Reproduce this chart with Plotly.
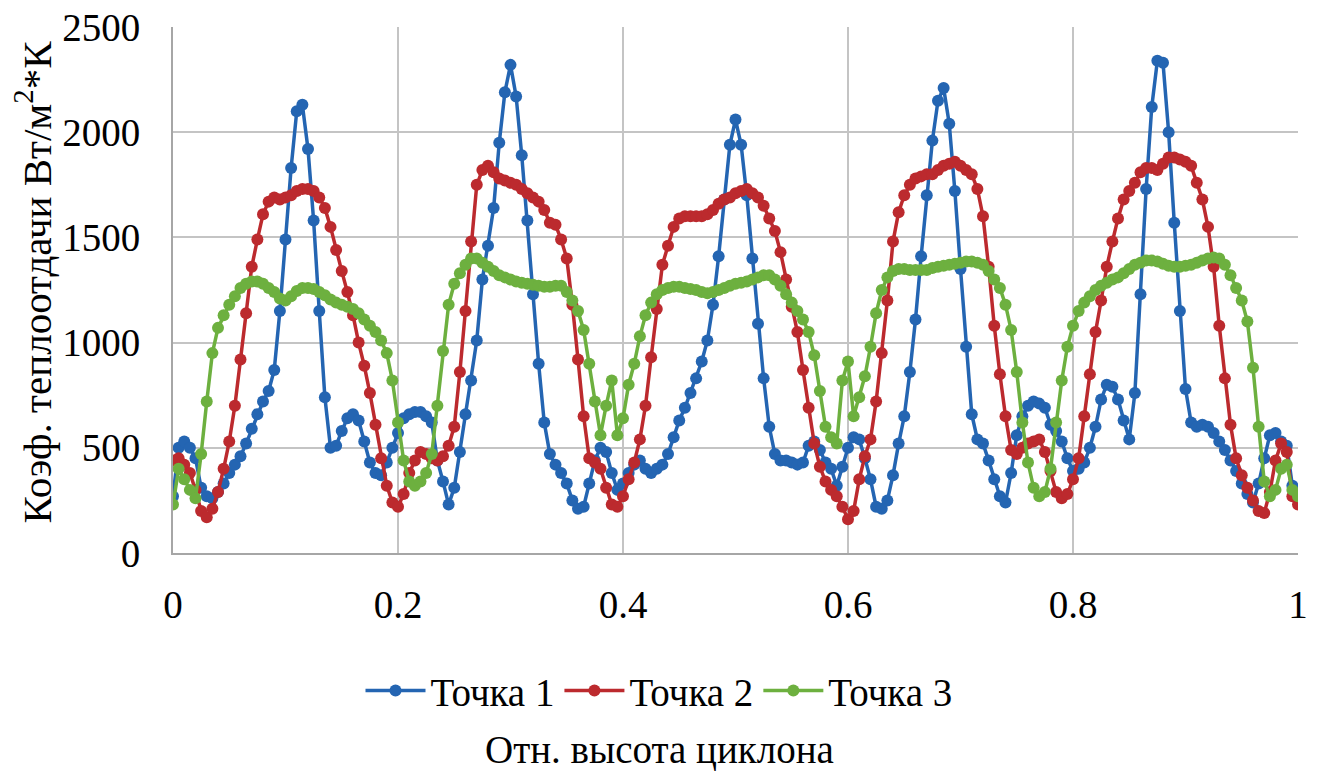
import plotly.graph_objects as go

# Relative cyclone height (x), sampled every 0.005
x_height = [
    0.000, 0.005, 0.010, 0.015, 0.020, 0.025, 0.030, 0.035, 0.040, 0.045,
    0.050, 0.055, 0.060, 0.065, 0.070, 0.075, 0.080, 0.085, 0.090, 0.095,
    0.100, 0.105, 0.110, 0.115, 0.120, 0.125, 0.130, 0.135, 0.140, 0.145,
    0.150, 0.155, 0.160, 0.165, 0.170, 0.175, 0.180, 0.185, 0.190, 0.195,
    0.200, 0.205, 0.210, 0.215, 0.220, 0.225, 0.230, 0.235, 0.240, 0.245,
    0.250, 0.255, 0.260, 0.265, 0.270, 0.275, 0.280, 0.285, 0.290, 0.295,
    0.300, 0.305, 0.310, 0.315, 0.320, 0.325, 0.330, 0.335, 0.340, 0.345,
    0.350, 0.355, 0.360, 0.365, 0.370, 0.375, 0.380, 0.385, 0.390, 0.395,
    0.400, 0.405, 0.410, 0.415, 0.420, 0.425, 0.430, 0.435, 0.440, 0.445,
    0.450, 0.455, 0.460, 0.465, 0.470, 0.475, 0.480, 0.485, 0.490, 0.495,
    0.500, 0.505, 0.510, 0.515, 0.520, 0.525, 0.530, 0.535, 0.540, 0.545,
    0.550, 0.555, 0.560, 0.565, 0.570, 0.575, 0.580, 0.585, 0.590, 0.595,
    0.600, 0.605, 0.610, 0.615, 0.620, 0.625, 0.630, 0.635, 0.640, 0.645,
    0.650, 0.655, 0.660, 0.665, 0.670, 0.675, 0.680, 0.685, 0.690, 0.695,
    0.700, 0.705, 0.710, 0.715, 0.720, 0.725, 0.730, 0.735, 0.740, 0.745,
    0.750, 0.755, 0.760, 0.765, 0.770, 0.775, 0.780, 0.785, 0.790, 0.795,
    0.800, 0.805, 0.810, 0.815, 0.820, 0.825, 0.830, 0.835, 0.840, 0.845,
    0.850, 0.855, 0.860, 0.865, 0.870, 0.875, 0.880, 0.885, 0.890, 0.895,
    0.900, 0.905, 0.910, 0.915, 0.920, 0.925, 0.930, 0.935, 0.940, 0.945,
    0.950, 0.955, 0.960, 0.965, 0.970, 0.975, 0.980, 0.985, 0.990, 0.995,
    1.000,
]

tochka_1 = [
    270, 500, 530, 500, 450, 310, 270, 260, 290, 330,
    380, 420, 460, 520, 590, 660, 720, 770, 870, 1150,
    1490, 1830, 2100, 2130, 1920, 1580, 1150, 740, 500, 510,
    580, 640, 660, 630, 530, 430, 380, 370, 430, 500,
    570, 640, 660, 670, 670, 650, 620, 440, 340, 230,
    310, 480, 660, 820, 1010, 1300, 1460, 1640, 1950, 2190,
    2320, 2170, 1890, 1580, 1230, 900, 620, 470, 420, 380,
    330, 250, 210, 220, 330, 440, 500, 480, 380, 300,
    330, 380, 420, 440, 400, 380, 400, 420, 470, 550,
    630, 690, 760, 830, 910, 1010, 1180, 1410, 1680, 1940,
    2060, 1940, 1700, 1400, 1090, 830, 600, 470, 440, 440,
    430, 420, 430, 510, 530, 490, 430, 400, 320, 410,
    500, 550, 540, 450, 350, 220, 210, 250, 370, 520,
    650, 860, 1110, 1410, 1700, 1960, 2150, 2210, 2040, 1720,
    1350, 980, 660, 540, 520, 440, 350, 270, 240, 380,
    560, 650, 700, 720, 710, 690, 610, 580, 530, 450,
    390, 400, 430, 500, 600, 730, 800, 790, 730, 630,
    540, 760, 1230, 1730, 2120, 2340, 2330, 2000, 1570, 1150,
    780, 620, 600, 610, 600, 570, 530, 490, 440, 390,
    330, 280, 240, 330, 450, 560, 570, 530, 510, 320,
    270,
]

tochka_2 = [
    440, 450, 420, 380, 300, 200, 170, 210, 290, 400,
    530, 700, 920, 1140, 1360, 1490, 1610, 1670, 1690, 1680,
    1690, 1700, 1720, 1730, 1730, 1720, 1690, 1640, 1550, 1440,
    1340, 1240, 1130, 1000, 890, 760, 610, 450, 320, 240,
    220, 280, 380, 440, 480, 470, 450, 440, 460, 510,
    600, 860, 1150, 1480, 1750, 1820, 1840, 1810, 1780, 1770,
    1760, 1750, 1730, 1710, 1690, 1670, 1630, 1570, 1560, 1490,
    1400, 1180, 920, 650, 450, 430, 400, 310, 230, 220,
    270, 350, 430, 540, 700, 930, 1160, 1370, 1460, 1550,
    1590, 1600, 1600, 1600, 1600, 1610, 1630, 1660, 1680, 1690,
    1710, 1720, 1730, 1710, 1690, 1650, 1590, 1530, 1430, 1300,
    1170, 1050, 870, 690, 520, 410, 340, 300, 270, 220,
    160, 200, 350, 460, 540, 720, 950, 1200, 1480, 1620,
    1700, 1750, 1780, 1790, 1800, 1800, 1820, 1840, 1850, 1860,
    1840, 1820, 1800, 1730, 1600, 1360, 1080, 850, 650, 490,
    470, 500, 520, 530, 540, 480, 390, 290, 260, 280,
    350, 450, 650, 850, 1050, 1200, 1360, 1480, 1590, 1680,
    1720, 1760, 1810, 1830, 1830, 1820, 1850, 1880, 1880, 1870,
    1860, 1840, 1760, 1680, 1550, 1360, 1080, 830, 610, 450,
    370, 310, 250, 200, 190, 290, 440, 520, 480, 270,
    230,
]

tochka_3 = [
    230, 400, 350, 300, 260, 470, 720, 950, 1070, 1130,
    1180, 1220, 1260, 1280, 1290, 1290, 1280, 1260, 1240, 1210,
    1200, 1220, 1245, 1260, 1260, 1255, 1240, 1225, 1205, 1190,
    1180, 1170, 1160, 1140, 1110, 1080, 1050, 1010, 950, 820,
    620, 440, 340, 320, 340, 380, 470, 700, 960, 1180,
    1280, 1330, 1370, 1400, 1400, 1380, 1360, 1340, 1320, 1310,
    1300, 1290, 1285, 1280, 1275, 1270, 1265, 1265, 1270, 1270,
    1240, 1200, 1150, 1060, 900, 720, 560, 700, 820, 560,
    640, 800, 900, 1030, 1130, 1190, 1230, 1250, 1260, 1265,
    1265, 1260, 1255, 1250, 1240, 1235, 1240, 1250, 1260, 1270,
    1280, 1285, 1290, 1300, 1310, 1320, 1320, 1300, 1270, 1230,
    1190, 1150, 1110, 1050, 940, 770, 600, 550, 520, 820,
    910, 650, 740, 840, 980, 1140, 1250, 1310, 1340, 1350,
    1350, 1345, 1345, 1345, 1345, 1355, 1360, 1365, 1370, 1375,
    1380, 1385, 1385, 1380, 1370, 1340, 1300, 1260, 1180, 1060,
    860, 620, 430, 310, 270, 290, 400, 620, 820, 980,
    1080, 1150, 1190, 1220, 1250, 1270, 1285, 1300, 1310, 1330,
    1350, 1370, 1380, 1390, 1390, 1385, 1375, 1365, 1360, 1360,
    1365, 1370, 1380, 1390, 1400, 1405, 1400, 1370, 1320, 1260,
    1200, 1100, 880, 600, 340, 270, 300, 400, 420, 300,
    270,
]

series_names = ["Точка 1", "Точка 2", "Точка 3"]
series_colors = ["#2465B2", "#BC2A2E", "#6DB03F"]

x_tick_vals = [0, 0.2, 0.4, 0.6, 0.8, 1.0]
x_tick_text = ["0", "0.2", "0.4", "0.6", "0.8", "1"]
y_tick_vals = [0, 500, 1000, 1500, 2000, 2500]

FONT = "Liberation Serif, Times New Roman, serif"
FS = 39

fig = go.Figure()
for name, vals, col in zip(series_names, [tochka_1, tochka_2, tochka_3], series_colors):
    fig.add_trace(go.Scatter(
        x=x_height, y=vals, name=name, mode="lines+markers",
        line=dict(color=col, width=3.5),
        marker=dict(color=col, size=12),
    ))

fig.update_layout(
    width=1318, height=776,
    margin=dict(l=173, r=20, t=27, b=223),
    paper_bgcolor="white", plot_bgcolor="white",
    font=dict(family=FONT, size=FS, color="black"),
    showlegend=True,
    legend=dict(
        orientation="h", xref="container", yref="container",
        x=0.5, xanchor="center", y=0.11, yanchor="middle",
        font=dict(family=FONT, size=FS), itemwidth=60,
        traceorder="normal", tracegroupgap=0,
    ),
    xaxis=dict(
        range=[0, 1], tickvals=x_tick_vals, ticktext=x_tick_text,
        showgrid=True, gridcolor="#C4C4C4", gridwidth=2,
        showline=True, linecolor="#A6A6A6", linewidth=2,
        ticks="", ticklabelstandoff=16, zeroline=False,
        tickfont=dict(family=FONT, size=FS), automargin=False,
    ),
    yaxis=dict(
        range=[0, 2500], tickvals=y_tick_vals,
        showgrid=True, gridcolor="#C4C4C4", gridwidth=2,
        showline=True, linecolor="#A6A6A6", linewidth=2,
        ticks="", ticklabelstandoff=23, zeroline=False,
        tickfont=dict(family=FONT, size=FS), automargin=False,
    ),
    annotations=[
        dict(
            text="Отн. высота циклона", xref="paper", yref="paper",
            x=0.432, y=-0.3745, xanchor="center", yanchor="middle",
            showarrow=False, font=dict(family=FONT, size=FS),
        ),
        dict(
            text="Коэф. теплоотдачи Вт/м<sup>2</sup>*К",
            xref="paper", yref="paper", x=-0.124, y=0.515,
            xanchor="center", yanchor="middle", textangle=-90,
            showarrow=False, font=dict(family=FONT, size=41),
        ),
    ],
)

fig.write_html("out.html")
